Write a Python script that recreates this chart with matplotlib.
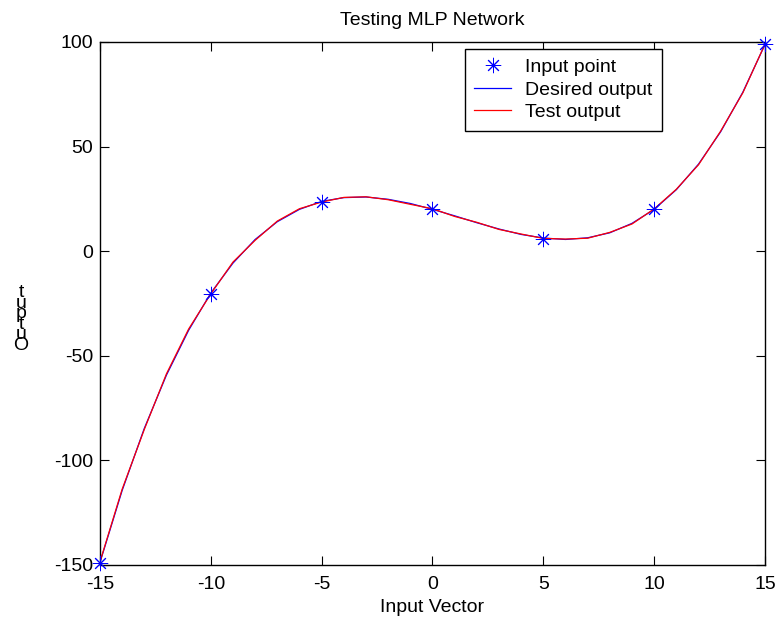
import numpy as np
import matplotlib.pyplot as plt

plt.rcParams["font.family"] = ["Liberation Sans", "DejaVu Sans"]
plt.rcParams["axes.unicode_minus"] = False

# Training points
input_x = [-15, -10, -5, 0, 5, 10, 15]
input_y = [-149, -20.5, 23.5, 20, 6, 20, 99]

# Curves sampled along the input range
curve_x = list(range(-15, 16))
desired_y = [-148.8, -114.4, -84.7, -59.2, -37.8, -20.0, -5.7, 5.6, 14.1, 20.0,
             23.8, 25.6, 25.9, 24.8, 22.8, 20.0, 16.9, 13.6, 10.6, 8.0,
             6.3, 5.6, 6.4, 8.8, 13.3, 20.0, 29.4, 41.6, 57.1, 76.0, 98.8]
test_y = [-148.5, -113.8, -85.2, -58.6, -37.2, -20.4, -5.2, 5.2, 14.4, 20.3,
          23.5, 25.7, 26.0, 24.6, 22.4, 20.3, 16.6, 13.8, 10.4, 8.2,
          6.1, 5.8, 6.2, 9.0, 13.0, 20.2, 29.6, 41.3, 57.4, 75.7, 99.0]

fig = plt.figure(figsize=(7.78, 6.21), dpi=100)
ax = fig.add_axes([0.1285, 0.0902, 0.8548, 0.8422])

ax.plot(input_x, input_y, linestyle="none", marker=(8, 2, 0), color="#0000ff",
        markersize=11, markeredgewidth=0.7, label="Input point",
        clip_on=False, zorder=4)
ax.plot(curve_x, desired_y, "-", color="#0000ff", linewidth=0.9,
        label="Desired output")
ax.plot(curve_x, test_y, "-", color="#ff0000", linewidth=0.9,
        label="Test output")

ax.set_xlim(-15, 15)
ax.set_ylim(-150, 100)
ax.set_xticks(np.arange(-15, 16, 5))
ax.set_yticks(np.arange(-150, 101, 50))
ax.tick_params(direction="in", top=True, right=True, labelsize=14,
               length=6.5, width=0.8)
ax.tick_params(axis="x", pad=8)
ax.tick_params(axis="y", pad=5)
for spine in ax.spines.values():
    spine.set_linewidth(1.0)

ax.set_title("Testing MLP Network", fontsize=14, pad=12)
ax.set_xlabel("Input Vector", fontsize=14, labelpad=4)

# stacked, overlapping y label as in the original
fig.text(21 / 778, 1 - 319 / 621, "t\nu\np\nt\nu\nO", fontsize=14,
         ha="center", va="center", linespacing=0.5)

leg = ax.legend(loc="upper right", bbox_to_anchor=(0.845, 0.987),
                borderaxespad=0, fancybox=False, framealpha=1,
                edgecolor="black", fontsize=14, handlelength=1.9,
                handletextpad=0.7, labelspacing=0.25, borderpad=0.5)
leg.get_frame().set_linewidth(1.0)

fig.savefig("out.png", dpi=100)
